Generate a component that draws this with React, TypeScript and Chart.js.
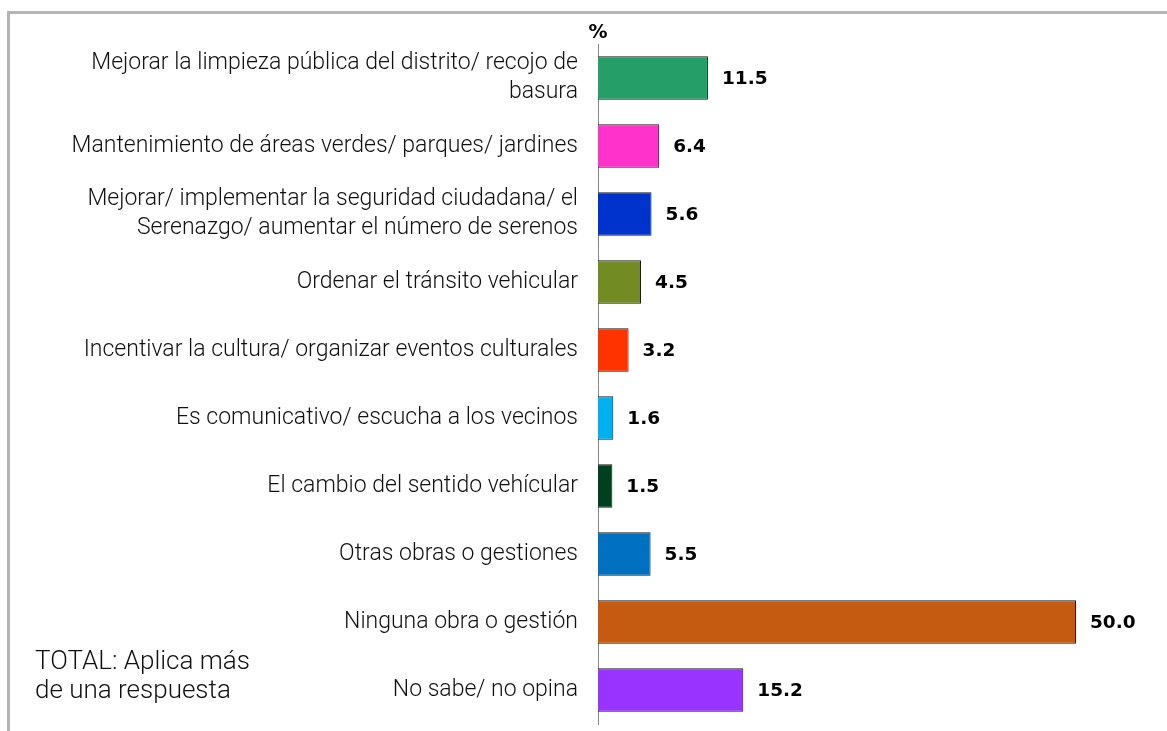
import React, { useEffect, useRef } from "react";
import { Chart, registerables } from "chart.js";

Chart.register(...registerables);

const categories: (string | string[])[] = [
  ["Mejorar la limpieza pública del distrito/ recojo de", "basura"],
  "Mantenimiento de áreas verdes/ parques/ jardines",
  ["Mejorar/ implementar la seguridad ciudadana/ el", "Serenazgo/ aumentar el número de serenos"],
  "Ordenar el tránsito vehicular",
  "Incentivar la cultura/ organizar eventos culturales",
  "Es comunicativo/ escucha a los vecinos",
  "El cambio del sentido vehícular",
  "Otras obras o gestiones",
  "Ninguna obra o gestión",
  "No sabe/ no opina",
];

const values: number[] = [11.5, 6.4, 5.6, 4.5, 3.2, 1.6, 1.5, 5.5, 50.0, 15.2];

const barColors: string[] = [
  "#259E67",
  "#FF33CC",
  "#0033CC",
  "#728B22",
  "#FF3300",
  "#00B0F0",
  "#003F1F",
  "#0070C0",
  "#C55A11",
  "#9933FF",
];

const unitLabel = "%";
const noteLines: string[] = ["TOTAL: Aplica más", "de una respuesta"];

const LABEL_FONT = "Roboto";

export default function App() {
  const ref = useRef<HTMLCanvasElement | null>(null);

  useEffect(() => {
    const canvas = ref.current;
    if (!canvas) return;

    const decor = {
      id: "decor",
      beforeDraw(chart: any) {
        const ctx = chart.ctx;
        ctx.save();
        ctx.fillStyle = "#ffffff";
        ctx.fillRect(0, 0, chart.width, chart.height);
        ctx.strokeStyle = "#b4b4b4";
        ctx.lineWidth = 3;
        ctx.beginPath();
        ctx.moveTo(8.5, 731);
        ctx.lineTo(8.5, 12.5);
        ctx.lineTo(1167, 12.5);
        ctx.stroke();
        ctx.restore();
      },
      afterDatasetsDraw(chart: any) {
        const ctx = chart.ctx;
        const meta = chart.getDatasetMeta(0);
        ctx.save();
        ctx.fillStyle = "#000";
        ctx.font = "bold 18.5px 'DejaVu Sans'";
        ctx.textBaseline = "middle";
        ctx.textAlign = "left";
        meta.data.forEach((bar: any, i: number) => {
          ctx.fillText(values[i].toFixed(1), bar.x + 14, bar.y + 1);
        });
        const area = chart.chartArea;
        ctx.font = "bold 19px 'DejaVu Sans'";
        ctx.textAlign = "center";
        ctx.fillText(unitLabel, area.left, 33);
        ctx.font = `300 26px ${LABEL_FONT}`;
        ctx.textAlign = "left";
        ctx.fillStyle = "#111";
        noteLines.forEach((t, i) => ctx.fillText(t, 35, 662 + i * 29));
        ctx.restore();
      },
    };

    const chart = new Chart(canvas, {
      type: "bar",
      data: {
        labels: categories,
        datasets: [
          {
            data: values,
            backgroundColor: barColors,
            borderColor: "#1a1a1a",
            borderWidth: 1,
            categoryPercentage: 0.64,
            barPercentage: 1,
          },
        ],
      },
      options: {
        indexAxis: "y",
        animation: false,
        responsive: false,
        devicePixelRatio: 1,
        layout: { padding: { top: 44, bottom: 7, right: 91, left: 0 } },
        plugins: { legend: { display: false }, tooltip: { enabled: false } },
        scales: {
          x: {
            display: false,
            min: 0,
            max: 50,
          },
          y: {
            grid: { display: false, drawTicks: false },
            border: { display: true, color: "#888", width: 1 },
            ticks: {
              color: "#111",
              padding: 20,
              font: { family: LABEL_FONT, size: 23, weight: "300" as any, lineHeight: 1.26 },
            },
            afterFit(scale: any) {
              scale.width = 598;
              scale.paddingTop = 0;
              scale.paddingBottom = 0;
            },
          },
        },
      },
      plugins: [decor],
    });

    return () => chart.destroy();
  }, []);

  return (
    <div style={{ position: "fixed", left: 0, top: 0, width: 1167, height: 731, background: "#fff" }}>
      <canvas ref={ref} width={1167} height={731} style={{ width: 1167, height: 731, display: "block" }} />
    </div>
  );
}
